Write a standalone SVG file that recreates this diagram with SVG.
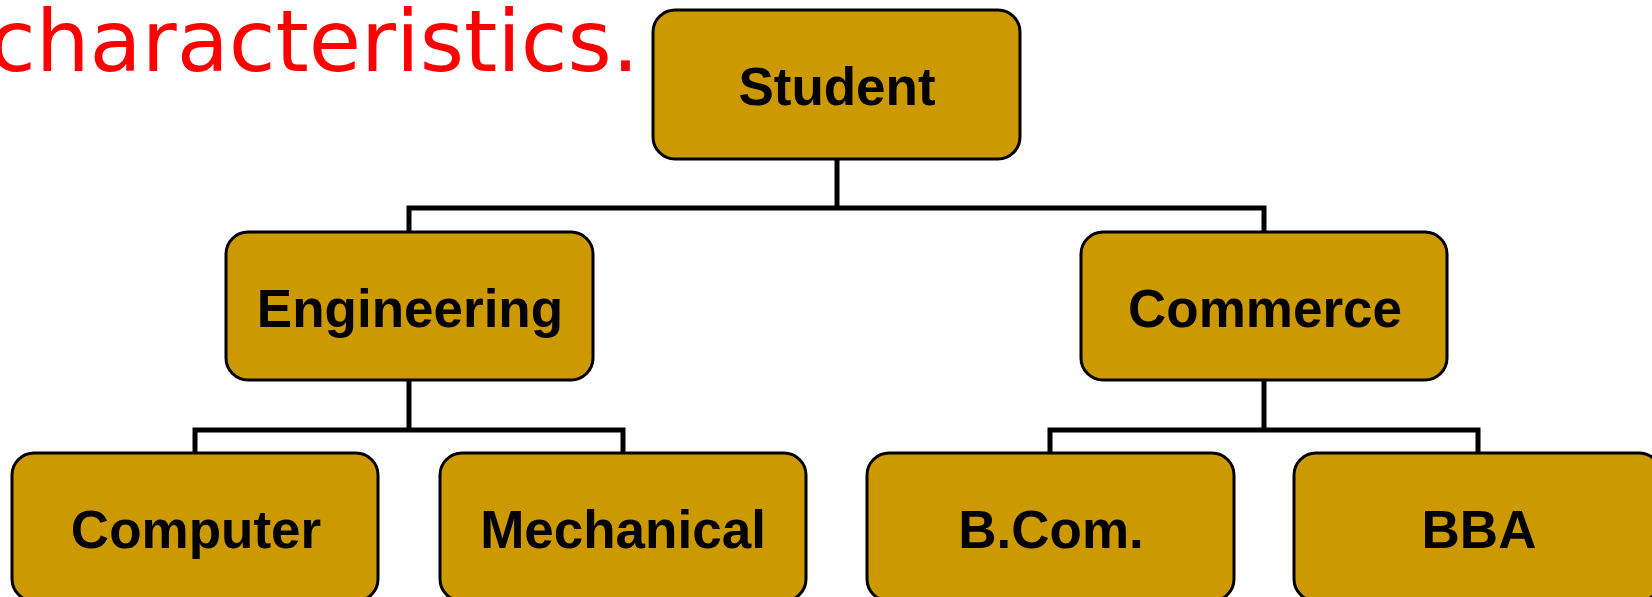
<svg xmlns="http://www.w3.org/2000/svg" width="1652" height="597" viewBox="0 0 1652 597">
<style>
.box{fill:#CC9900;stroke:#000;stroke-width:3}
.lbl{font-family:"Liberation Sans",Arial,sans-serif;font-weight:bold;font-size:53px;fill:#000;text-anchor:middle}
.conn{fill:none;stroke:#000;stroke-width:5;stroke-linejoin:miter}
</style>
<rect width="1652" height="597" fill="#fff"/>
<text x="-11" y="71" font-family="'DejaVu Sans',Verdana,sans-serif" font-size="85" fill="#FF0000">characteristics.</text>
<g id="connectors">
<path class="conn" d="M837 159 V208"/>
<path class="conn" d="M409 232 V208 H1264 V232"/>
<path class="conn" d="M409 380 V430"/>
<path class="conn" d="M195 453 V430 H623 V453"/>
<path class="conn" d="M1264 380 V430"/>
<path class="conn" d="M1050 453 V430 H1478 V453"/>
</g>
<g id="student"><rect class="box" x="653" y="10" width="367" height="149" rx="22"/><text class="lbl" x="837" y="105">Student</text></g>
<g id="engineering"><rect class="box" x="226" y="232" width="367" height="148" rx="22"/><text class="lbl" x="410" y="327">Engineering</text></g>
<g id="commerce"><rect class="box" x="1081" y="232" width="366" height="148" rx="22"/><text class="lbl" x="1265" y="327">Commerce</text></g>
<g id="computer"><rect class="box" x="12" y="453" width="366" height="148" rx="22"/><text class="lbl" x="196" y="548">Computer</text></g>
<g id="mechanical"><rect class="box" x="440" y="453" width="366" height="148" rx="22"/><text class="lbl" x="623" y="548">Mechanical</text></g>
<g id="bcom"><rect class="box" x="867" y="453" width="367" height="148" rx="22"/><text class="lbl" x="1051" y="548">B.Com.</text></g>
<g id="bba"><rect class="box" x="1294" y="453" width="367" height="148" rx="22"/><text class="lbl" x="1479" y="548">BBA</text></g>
</svg>
